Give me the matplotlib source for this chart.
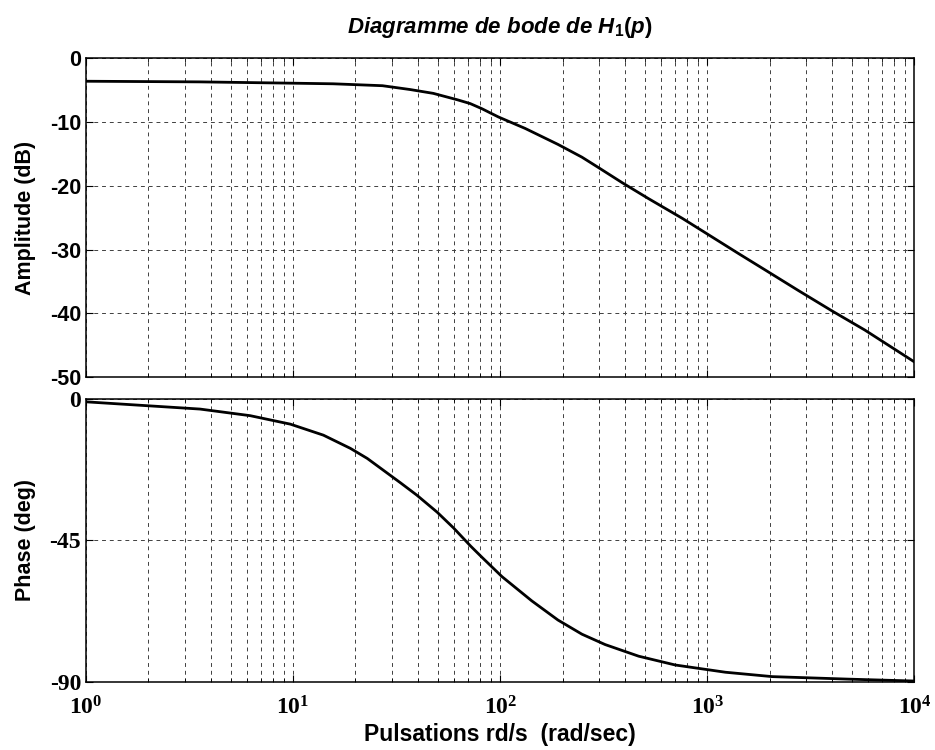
import numpy as np
import matplotlib.pyplot as plt
from matplotlib.ticker import LogLocator, NullFormatter

# Values
w_amp = [1, 3.55, 9.7, 15.6, 27, 36.7, 47.5, 62, 71.6, 81.5, 98, 132, 190,
         248, 297, 388, 520, 758, 1413, 1906, 2750, 4000, 5760, 10000]
amp_db = [-3.6, -3.7, -3.9, -4.0, -4.3, -4.9, -5.5, -6.5, -7.1, -7.9, -9.2,
          -11.0, -13.5, -15.5, -17.1, -19.5, -22.0, -25.1, -30.6, -33.2,
          -36.4, -39.6, -42.6, -47.6]

w_phase = [1, 3.55, 6.2, 9.7, 14, 18.9, 22.8, 32.9, 39.6, 49.6, 59.5, 72,
           81.5, 102, 142, 190, 248, 321, 466, 700, 1222, 2060, 4820, 10000]
phase_deg = [-0.9, -3.2, -5.3, -8.0, -11.5, -15.7, -18.9, -26.6, -30.6, -36.0,
             -41.0, -46.8, -50.3, -56.5, -64.2, -70.3, -74.8, -78.1, -81.8,
             -84.6, -86.9, -88.3, -89.1, -89.7]

amp_ticks = [0, -10, -20, -30, -40, -50]
amp_labels = ['0', '-10', '-20', '-30', '-40', '-50']
phase_ticks = [0, -45, -90]
phase_labels = ['0', '-45', '-90']
x_ticks = [1, 10, 100, 1000, 10000]
x_labels = [r'$\mathdefault{10^{0}}$', r'$\mathdefault{10^{1}}$',
            r'$\mathdefault{10^{2}}$', r'$\mathdefault{10^{3}}$',
            r'$\mathdefault{10^{4}}$']

plt.rcParams['font.family'] = 'Liberation Sans'
plt.rcParams['mathtext.fontset'] = 'custom'
plt.rcParams['mathtext.it'] = 'Liberation Sans:italic:bold'
plt.rcParams['mathtext.rm'] = 'Liberation Sans:bold'

fig = plt.figure(figsize=(9.35, 7.5), dpi=100)
ax1 = fig.add_axes([0.092, 0.497, 0.886, 0.4253])
ax2 = fig.add_axes([0.092, 0.0907, 0.886, 0.3773])

grid_kw = dict(color='0.25', linestyle=(0, (4, 4)), linewidth=0.7)

for ax in (ax1, ax2):
    ax.set_xscale('log')
    ax.set_xlim(1, 10000)
    ax.xaxis.set_minor_locator(LogLocator(base=10, subs=np.arange(2, 10)))
    ax.xaxis.set_minor_formatter(NullFormatter())
    ax.grid(True, which='both', axis='x', **grid_kw)
    ax.grid(True, which='major', axis='y', **grid_kw)
    ax.tick_params(which='both', direction='in', top=True, right=True)
    ax.tick_params(which='major', length=5)
    ax.tick_params(which='minor', length=3)
    for s in ax.spines.values():
        s.set_linewidth(1.1)

# Amplitude
ax1.plot(w_amp, amp_db, color='black', linewidth=2)
ax1.set_ylim(-50, 0)
ax1.set_yticks(amp_ticks, labels=amp_labels, fontsize=15.5, fontweight='bold')
ax1.set_xticks(x_ticks)
ax1.set_xticklabels([])
ax1.set_ylabel('Amplitude (dB)', fontsize=15.5, fontweight='bold')
ax1.yaxis.set_label_coords(-0.06, 0.5)
ax1.set_title(r'Diagramme de bode de $H_1(p)$', fontsize=16,
              fontweight='bold', fontstyle='italic', pad=18)

# Phase
ax2.plot(w_phase, phase_deg, color='black', linewidth=2)
ax2.set_ylim(-90, 0)
ax2.set_yticks(phase_ticks, labels=phase_labels, fontsize=17,
               fontweight='bold', fontfamily='Liberation Serif')
ax2.set_xticks(x_ticks, labels=x_labels, fontsize=17,
               fontweight='bold', fontfamily='Liberation Serif')
ax2.tick_params(axis='x', which='major', pad=10)
ax2.set_ylabel('Phase (deg)', fontsize=15.5, fontweight='bold')
ax2.yaxis.set_label_coords(-0.06, 0.5)
ax2.set_xlabel('Pulsations rd/s  (rad/sec)', fontsize=16.5, fontweight='bold',
               labelpad=3)

fig.savefig('out.png', dpi=100)
